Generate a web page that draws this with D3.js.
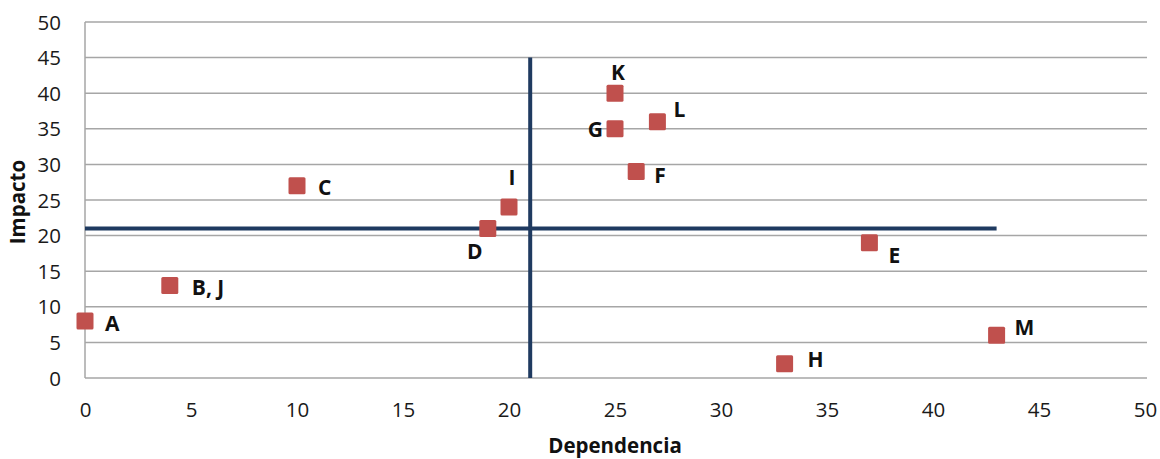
<!DOCTYPE html>
<html>
<head>
<meta charset="utf-8">
<script src="https://cdn.jsdelivr.net/npm/d3@7"></script>
<style>
  html, body { margin: 0; padding: 0; background: #fff; }
  svg { display: block; }
</style>
</head>
<body>
<svg id="chart" width="1160" height="459"></svg>
<script>
// Influence/dependence matrix: each variable placed by its dependence (x) and impact (y)
const labels      = ["A", "B, J", "C", "D", "I", "K", "G", "L", "F", "E", "H", "M"];
const dependencia = [0, 4, 10, 19, 20, 25, 25, 27, 26, 37, 33, 43];
const impacto     = [8, 13, 27, 21, 24, 40, 35, 36, 29, 19, 2, 6];

const xTicks = [0, 5, 10, 15, 20, 25, 30, 35, 40, 45, 50];
const yTicks = [0, 5, 10, 15, 20, 25, 30, 35, 40, 45, 50];

// Quadrant dividers: dependence cut and impact cut
const corteDependencia = 21;
const corteImpacto = 21;
const verticalTop = 45;
const horizontalEnd = 43;

// Label placement around each marker: [dx, dy, anchor]
const labelOffset = {
  "A":    [20, 3, "start"],
  "B, J": [22, 2, "start"],
  "C":    [21, 2, "start"],
  "D":    [-13, 23, "middle"],
  "I":    [3, -29, "middle"],
  "K":    [3, -21, "middle"],
  "G":    [-12, 1, "end"],
  "L":    [16, -12, "start"],
  "F":    [18, 4, "start"],
  "E":    [19, 13, "start"],
  "H":    [23, -4, "start"],
  "M":    [18, -8, "start"]
};

const svg = d3.select("#chart");
const plotLeft = 85, plotRight = 1145, plotTop = 22, plotBottom = 378;

const x = d3.scaleLinear().domain([0, 50]).range([plotLeft, plotRight]);
const y = d3.scaleLinear().domain([0, 50]).range([plotBottom, plotTop]);

const font = "'Open Sans', 'DejaVu Sans', sans-serif";

// Horizontal gridlines
svg.append("g")
  .selectAll("line")
  .data(yTicks)
  .join("line")
  .attr("x1", plotLeft).attr("x2", plotRight + 2)
  .attr("y1", d => y(d)).attr("y2", d => y(d))
  .attr("stroke", "#a6a6a6").attr("stroke-width", 1.5);

// Left axis line
svg.append("line")
  .attr("x1", plotLeft).attr("x2", plotLeft)
  .attr("y1", y(50)).attr("y2", y(0))
  .attr("stroke", "#a6a6a6").attr("stroke-width", 1.5);

// Y axis tick labels
const yAxis = d3.axisLeft(y).tickValues(yTicks).tickSize(0).tickPadding(0);
const gy = svg.append("g").attr("transform", `translate(${plotLeft - 24},0)`).call(yAxis);
gy.select(".domain").remove();
gy.selectAll("text")
  .attr("font-family", font).attr("font-size", 20.5).attr("fill", "#1a1a1a")
  .attr("dy", "0.35em");

// X axis tick labels
const xAxis = d3.axisBottom(x).tickValues(xTicks).tickSize(0).tickPadding(0);
const gx = svg.append("g").attr("transform", `translate(0,${plotBottom + 24})`).call(xAxis);
gx.select(".domain").remove();
gx.selectAll("text")
  .attr("font-family", font).attr("font-size", 20.5).attr("fill", "#1a1a1a")
  .attr("dy", "0.71em");

// Quadrant lines
const navy = "#1f3a60";
svg.append("line")
  .attr("x1", x(corteDependencia)).attr("x2", x(corteDependencia))
  .attr("y1", y(verticalTop)).attr("y2", y(0))
  .attr("stroke", navy).attr("stroke-width", 4);
svg.append("line")
  .attr("x1", x(0)).attr("x2", x(horizontalEnd))
  .attr("y1", y(corteImpacto)).attr("y2", y(corteImpacto))
  .attr("stroke", navy).attr("stroke-width", 4);

// Markers
const pts = labels.map((l, i) => ({ label: l, dx: dependencia[i], iy: impacto[i] }));
const ms = 17;
svg.append("g")
  .selectAll("rect")
  .data(pts)
  .join("rect")
  .attr("x", d => x(d.dx) - ms / 2)
  .attr("y", d => y(d.iy) - ms / 2)
  .attr("width", ms).attr("height", ms)
  .attr("rx", 1.5)
  .attr("fill", "#c0504d");

// Point labels
svg.append("g")
  .selectAll("text")
  .data(pts)
  .join("text")
  .attr("x", d => x(d.dx) + labelOffset[d.label][0])
  .attr("y", d => y(d.iy) + labelOffset[d.label][1])
  .attr("dy", "0.35em")
  .attr("text-anchor", d => labelOffset[d.label][2])
  .attr("font-family", font).attr("font-size", 21).attr("font-weight", "bold")
  .attr("fill", "#111")
  .text(d => d.label);

// Axis titles
svg.append("text")
  .attr("x", 615).attr("y", 446)
  .attr("dy", "0.35em")
  .attr("text-anchor", "middle")
  .attr("font-family", font).attr("font-size", 20.5).attr("font-weight", "bold")
  .attr("fill", "#111")
  .text("Dependencia");

svg.append("text")
  .attr("transform", `translate(18,${(plotTop + plotBottom) / 2 + 2}) rotate(-90)`)
  .attr("dy", "0.35em")
  .attr("text-anchor", "middle")
  .attr("font-family", font).attr("font-size", 20.5).attr("font-weight", "bold")
  .attr("fill", "#111")
  .text("Impacto");
</script>
</body>
</html>
